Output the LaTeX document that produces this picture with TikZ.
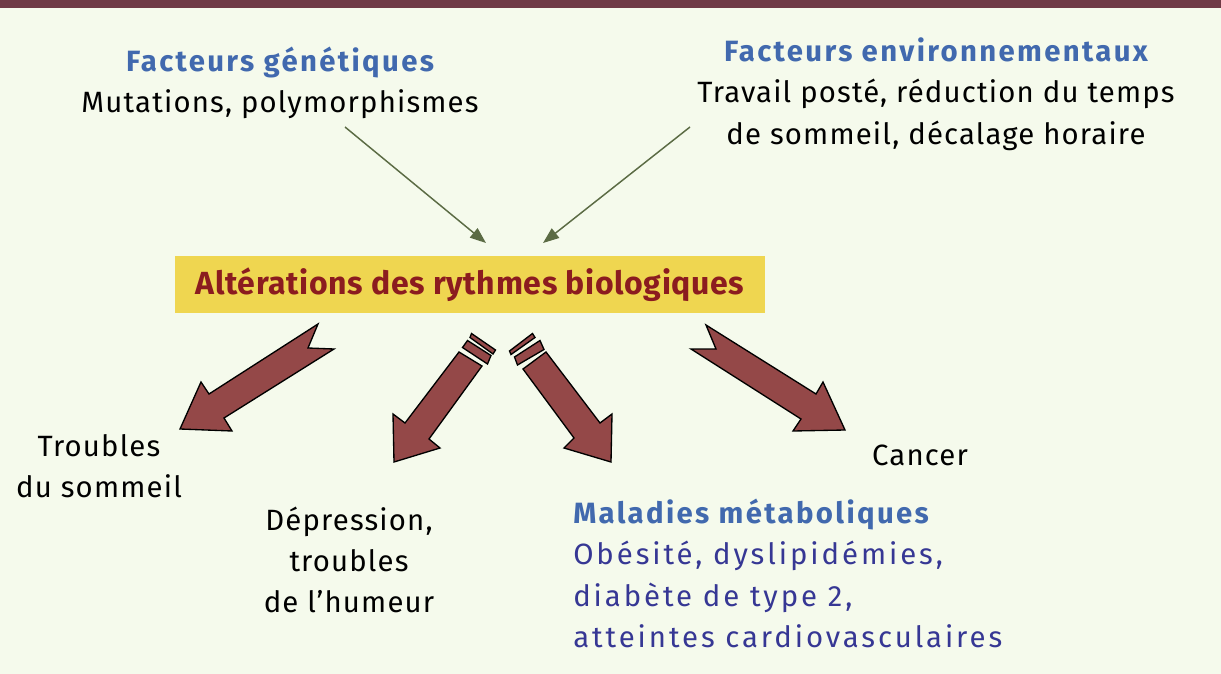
\documentclass[tikz,border=0pt]{standalone}
\usepackage{fontspec}
\setmainfont{Fira Sans}
\newfontfamily\bodyf{Fira Sans}[LetterSpace=4]
\newfontfamily\headf{Fira Sans}[LetterSpace=8]
\newfontfamily\titlef{Fira Sans}[LetterSpace=2]
\newfontfamily\spaced{Fira Sans}[LetterSpace=10]
\usetikzlibrary{arrows.meta}
\definecolor{bg}{HTML}{F5FAEC}
\definecolor{topbar}{HTML}{6F3A46}
\definecolor{boxyellow}{HTML}{EFD650}
\definecolor{titlered}{HTML}{8B1C1F}
\definecolor{headblue}{HTML}{4169AE}
\definecolor{listblue}{HTML}{363794}
\definecolor{bigarrow}{HTML}{944848}
\definecolor{thinarrow}{HTML}{5B6B44}
\newcommand\hd[1]{{\headf\bfseries\color{headblue}#1}}
\newcommand\lst[1]{{\spaced\color{listblue}#1}}
\begin{document}
\begin{tikzpicture}[x=0.75pt,y=-0.75pt,
  txt/.style={font=\fontsize{22}{31}\bodyf, inner sep=0pt, align=center, text=black},
  fat/.style={fill=bigarrow, draw=black, line width=1pt, line join=miter},
  thin/.style={draw=thinarrow, line width=1.1pt, -{Triangle[length=12pt,width=9pt]}}]
\useasboundingbox (0,0) rectangle (1221,674);
\fill[bg] (0,0) rectangle (1221,674);
\fill[topbar] (0,0) rectangle (1221,8);

% text nodes
\node[txt] (gen) at (280,83) {\hd{Facteurs génétiques}\\Mutations, polymorphismes};
\node[txt] (env) at (936,94) {\hd{Facteurs environnementaux}\\Travail posté, réduction du temps\\de sommeil, décalage horaire};
\node[fill=boxyellow, minimum width=442.5pt, minimum height=42.75pt, inner sep=0pt,
      font=\fontsize{24}{28}\titlef\bfseries, text=titlered] (box) at (470,284.5) {Altérations des rythmes biologiques};
\node[txt] (sleep) at (99,466) {Troubles\\du sommeil};
\node[txt] (dep) at (349,560) {Dépression,\\troubles\\de l’humeur};
\node[txt] (cancer) at (920,455) {Cancer};
\node[txt, align=left, anchor=west] (meta) at (573,573.5) {\hd{Maladies métaboliques}\\\lst{Obésité, dyslipidémies,}\\\lst{diabète de type 2,}\\\lst{atteintes cardiovasculaires}};

% thin arrows
\coordinate (g1) at (345,127);
\coordinate (g2) at (486,243);
\coordinate (e1) at (690,127);
\coordinate (e2) at (543,243);
\draw[thin] (g1) -- (g2);
\draw[thin] (e1) -- (e2);

% big arrows
\draw[fat] (318,324) -- (308,348) -- (334,349) -- (224,418) -- (232,431) -- (180,429) -- (201,382) -- (209,394) -- cycle;
\draw[fat] (706,325) -- (716,349) -- (691,349) -- (801,419) -- (793,431) -- (845,430) -- (823,382) -- (816,394) -- cycle;
% middle left
\draw[fat] (459,352) -- (482,366) -- (429,439) -- (440,448) -- (394,462) -- (393,414) -- (405,423) -- cycle;
\draw[fat] (467.5,340.5) -- (491,355.5) -- (487.5,364) -- (462.5,347.5) -- cycle;
\draw[fat] (471.5,333.5) -- (495.5,350) -- (493,354) -- (470,337.5) -- cycle;
% middle right
\draw[fat] (546,352) -- (523,369) -- (574,438) -- (564,448) -- (611,462) -- (612,414) -- (600,423) -- cycle;
\draw[fat] (540,340.5) -- (544,349.5) -- (517.5,365) -- (514.5,357) -- cycle;
\draw[fat] (532.5,333.5) -- (535,337.5) -- (511,354.5) -- (509.5,351) -- cycle;
\end{tikzpicture}
\end{document}
